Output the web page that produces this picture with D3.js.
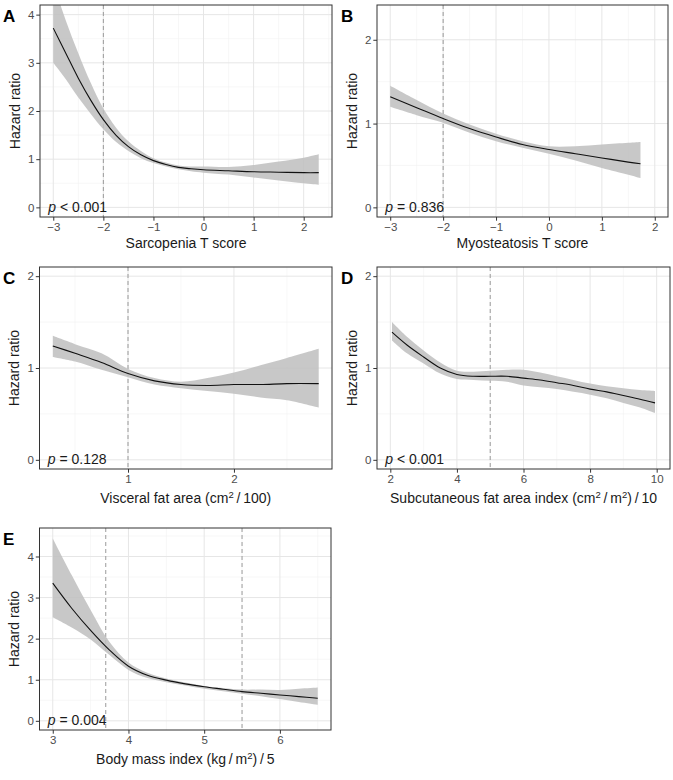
<!DOCTYPE html>
<meta charset="utf-8">
<style>
  body { margin: 0; background: #fff; }
  text { font-family: "Liberation Sans", Arial, sans-serif; }
</style>
<div id="chart"></div>
<script src="https://cdn.jsdelivr.net/npm/d3@7"></script>
<script>

// ---- data ----
// A: sarcopenia T score
let aX   = [-3, -2.75, -2.5, -2.25, -2, -1.75, -1.5, -1.25, -1, -0.75, -0.5, -0.25, 0, 0.5, 1, 1.5, 2, 2.3];
let aFit = [3.72, 3.20, 2.68, 2.22, 1.82, 1.50, 1.26, 1.09, 0.97, 0.89, 0.83, 0.80, 0.78, 0.76, 0.74, 0.73, 0.72, 0.72];
let aUpp = [4.65, 3.88, 3.20, 2.58, 2.05, 1.66, 1.37, 1.17, 1.02, 0.93, 0.87, 0.85, 0.85, 0.84, 0.88, 0.95, 1.03, 1.10];
let aLow = [3.00, 2.66, 2.28, 1.94, 1.62, 1.36, 1.17, 1.02, 0.92, 0.85, 0.79, 0.75, 0.72, 0.68, 0.62, 0.56, 0.50, 0.47];

// B: myosteatosis T score
let bX   = [-3, -2.5, -2, -1.5, -1, -0.5, 0, 0.5, 1, 1.5, 1.73];
let bFit = [1.32, 1.19, 1.06, 0.94, 0.84, 0.75, 0.69, 0.64, 0.59, 0.54, 0.52];
let bUpp = [1.45, 1.28, 1.12, 0.99, 0.88, 0.79, 0.73, 0.73, 0.75, 0.77, 0.78];
let bLow = [1.20, 1.10, 1.01, 0.89, 0.79, 0.71, 0.64, 0.56, 0.47, 0.39, 0.35];

// C: visceral fat area
let cX   = [0.29, 0.5, 0.75, 1, 1.25, 1.5, 1.75, 2, 2.25, 2.5, 2.8];
let cFit = [1.24, 1.16, 1.06, 0.94, 0.86, 0.82, 0.81, 0.82, 0.82, 0.83, 0.83];
let cUpp = [1.35, 1.26, 1.16, 0.99, 0.89, 0.85, 0.89, 0.95, 1.03, 1.11, 1.21];
let cLow = [1.12, 1.07, 0.98, 0.90, 0.82, 0.78, 0.75, 0.72, 0.68, 0.65, 0.57];

// D: subcutaneous fat area index
let dX   = [2.05, 2.5, 3, 3.5, 4, 4.5, 5, 5.5, 6, 6.5, 7, 7.5, 8, 8.5, 9, 9.5, 9.95];
let dFit = [1.39, 1.25, 1.12, 1.00, 0.93, 0.91, 0.91, 0.91, 0.89, 0.87, 0.84, 0.81, 0.77, 0.74, 0.70, 0.66, 0.62];
let dUpp = [1.50, 1.34, 1.19, 1.06, 0.97, 0.96, 0.97, 0.98, 0.98, 0.95, 0.91, 0.87, 0.83, 0.80, 0.78, 0.76, 0.75];
let dLow = [1.30, 1.16, 1.05, 0.94, 0.88, 0.87, 0.86, 0.85, 0.81, 0.79, 0.77, 0.74, 0.71, 0.67, 0.62, 0.57, 0.51];

// E: body mass index
let eX   = [3, 3.25, 3.5, 3.75, 4, 4.25, 4.5, 4.75, 5, 5.25, 5.5, 5.75, 6, 6.25, 6.5];
let eFit = [3.35, 2.74, 2.20, 1.72, 1.33, 1.11, 0.99, 0.90, 0.83, 0.77, 0.71, 0.67, 0.63, 0.59, 0.55];
let eUpp = [4.44, 3.55, 2.70, 1.92, 1.42, 1.17, 1.03, 0.93, 0.85, 0.80, 0.76, 0.76, 0.75, 0.78, 0.81];
let eLow = [2.52, 2.27, 1.98, 1.60, 1.24, 1.04, 0.94, 0.86, 0.78, 0.72, 0.66, 0.60, 0.53, 0.46, 0.39];

// axis limits, breaks, cut-offs, labels
let letters   = ["A", "B", "C", "D", "E"];
let xLims     = [[-3, 2.3], [-3, 2], [0.29, 2.8], [2, 10], [3, 6.5]];
let yLims     = [[0, 4], [0, 2.3], [0, 2], [0, 2], [0, 4.47]];
let xTicks    = [[-3, -2, -1, 0, 1, 2], [-3, -2, -1, 0, 1, 2], [1, 2], [2, 4, 6, 8, 10], [3, 4, 5, 6]];
let yTicks    = [[0, 1, 2, 3, 4], [0, 1, 2], [0, 1, 2], [0, 1, 2], [0, 1, 2, 3, 4]];
let cutoffs   = [[-2], [-2], [1], [5], [3.7, 5.5]];
let pLabels   = [["<", "0.001"], ["=", "0.836"], ["=", "0.128"], ["<", "0.001"], ["=", "0.004"]];
let xTitles   = [
  [["Sarcopenia T score"]],
  [["Myosteatosis T score"]],
  [["Visceral fat area (cm"], ["2", 1], ["\u2009/\u2009100)"]],
  [["Subcutaneous fat area index (cm"], ["2", 1], ["\u2009/\u2009m"], ["2", 1], [")\u2009/\u200910"]],
  [["Body mass index (kg\u2009/\u2009m"], ["2", 1], [")\u2009/\u20095"]]
];

let series = [
  [aX, aFit, aLow, aUpp],
  [bX, bFit, bLow, bUpp],
  [cX, cFit, cLow, cUpp],
  [dX, dFit, dLow, dUpp],
  [eX, eFit, eLow, eUpp]
];

// panel boxes in page pixels
let boxes = [
  {x0: 40,   x1: 332, y0: 5,   y1: 217},
  {x0: 377,  x1: 668, y0: 5,   y1: 217},
  {x0: 39.5, x1: 332, y0: 267, y1: 469},
  {x0: 377,  x1: 670, y0: 267, y1: 469},
  {x0: 39.5, x1: 331, y0: 528, y1: 730}
];

let svg = d3.select("#chart").append("svg")
  .attr("width", 673)
  .attr("height", 780);

function expand(lim) {
  let pad = (lim[1] - lim[0]) * 0.05;
  return [lim[0] - pad, lim[1] + pad];
}

function minors(ticks, domain) {
  let step = ticks.length > 1 ? ticks[1] - ticks[0] : 1;
  let out = [];
  for (let v = ticks[0] - step / 2; v <= domain[1]; v += step) {
    if (v >= domain[0]) out.push(v);
  }
  return out;
}

let smooth = d3.curveCatmullRom.alpha(0.5);

letters.forEach(function(letter, i) {
  let b = boxes[i];
  let w = b.x1 - b.x0, h = b.y1 - b.y0;
  let xd = expand(xLims[i]), yd = expand(yLims[i]);
  let x = d3.scaleLinear().domain(xd).range([0, w]);
  let y = d3.scaleLinear().domain(yd).range([h, 0]);

  let g = svg.append("g").attr("transform", "translate(" + b.x0 + "," + b.y0 + ")");

  g.append("clipPath").attr("id", "clip" + i)
    .append("rect").attr("width", w).attr("height", h);

  // grid
  g.selectAll(".xminor").data(minors(xTicks[i], xd)).enter().append("line")
    .attr("x1", d => x(d)).attr("x2", d => x(d)).attr("y1", 0).attr("y2", h)
    .attr("stroke", "#f2f2f2").attr("stroke-width", 0.6);
  g.selectAll(".yminor").data(minors(yTicks[i], yd)).enter().append("line")
    .attr("y1", d => y(d)).attr("y2", d => y(d)).attr("x1", 0).attr("x2", w)
    .attr("stroke", "#f2f2f2").attr("stroke-width", 0.6);
  g.selectAll(".xmajor").data(xTicks[i]).enter().append("line")
    .attr("x1", d => x(d)).attr("x2", d => x(d)).attr("y1", 0).attr("y2", h)
    .attr("stroke", "#e6e6e6").attr("stroke-width", 1);
  g.selectAll(".ymajor").data(yTicks[i]).enter().append("line")
    .attr("y1", d => y(d)).attr("y2", d => y(d)).attr("x1", 0).attr("x2", w)
    .attr("stroke", "#e6e6e6").attr("stroke-width", 1);

  // ribbon + fitted line
  let s = series[i];
  let pts = s[0].map((v, k) => ({x: v, fit: s[1][k], lo: s[2][k], hi: s[3][k]}));
  let plot = g.append("g").attr("clip-path", "url(#clip" + i + ")");

  // cut-off lines
  plot.selectAll(".cut").data(cutoffs[i]).enter().append("line")
    .attr("x1", d => x(d)).attr("x2", d => x(d)).attr("y1", 0).attr("y2", h)
    .attr("stroke", "#9a9a9a").attr("stroke-width", 1)
    .attr("stroke-dasharray", "4,3");

  plot.append("path").datum(pts)
    .attr("d", d3.area().curve(smooth)
      .x(d => x(d.x)).y0(d => y(d.lo)).y1(d => y(d.hi)))
    .attr("fill", "#bebebe").attr("fill-opacity", 0.85);
  plot.append("path").datum(pts)
    .attr("d", d3.line().curve(smooth).x(d => x(d.x)).y(d => y(d.fit)))
    .attr("fill", "none").attr("stroke", "#111").attr("stroke-width", 1.1);

  // panel border
  g.append("rect").attr("width", w).attr("height", h)
    .attr("fill", "none").attr("stroke", "#333").attr("stroke-width", 1);

  // axes
  let xa = g.append("g").attr("transform", "translate(0," + h + ")")
    .call(d3.axisBottom(x).tickValues(xTicks[i]).tickSize(3.7).tickPadding(2).tickFormat(d3.format("~g")));
  let ya = g.append("g")
    .call(d3.axisLeft(y).tickValues(yTicks[i]).tickSize(3.7).tickPadding(2).tickFormat(d3.format("~g")));
  [xa, ya].forEach(function(a) {
    a.select(".domain").remove();
    a.selectAll(".tick line").attr("stroke", "#333");
    a.selectAll(".tick text").attr("fill", "#4d4d4d")
      .style("font-size", "11.5px")
      .style("font-family", "'Liberation Sans', Arial, sans-serif");
  });

  // x title
  let hasSup = xTitles[i].some(p => p[1]);
  let xt = g.append("text")
    .attr("x", w / 2).attr("y", h + (hasSup ? 34 : 31))
    .attr("text-anchor", "middle")
    .style("font-size", "14px").attr("fill", "#1a1a1a");
  xTitles[i].forEach(function(p) {
    if (p[1]) {
      xt.append("tspan").attr("dy", -5).style("font-size", "9.5px").text(p[0]);
    } else {
      let t = xt.append("tspan").text(p[0]);
      if (xt.selectAll("tspan").size() > 1) t.attr("dy", 5);
    }
  });

  // y title
  g.append("text")
    .attr("transform", "translate(-25," + (h / 2) + ") rotate(-90)")
    .attr("text-anchor", "middle")
    .attr("dy", "0.35em")
    .style("font-size", "14px").attr("fill", "#1a1a1a")
    .text("Hazard ratio");

  // p value
  let pt = g.append("text")
    .attr("x", x(xLims[i][0]) - 5).attr("y", h - 5.5)
    .style("font-size", "14px").attr("fill", "#1a1a1a");
  pt.append("tspan").style("font-style", "italic").text("p");
  pt.append("tspan").text(" " + pLabels[i][0] + " " + pLabels[i][1]);

  // panel letter
  svg.append("text")
    .attr("x", (i % 2 === 0 ? 3 : 341))
    .attr("y", b.y0 + 17)
    .style("font-size", "17px").style("font-weight", "bold")
    .attr("fill", "#000")
    .text(letter);
});

</script>
